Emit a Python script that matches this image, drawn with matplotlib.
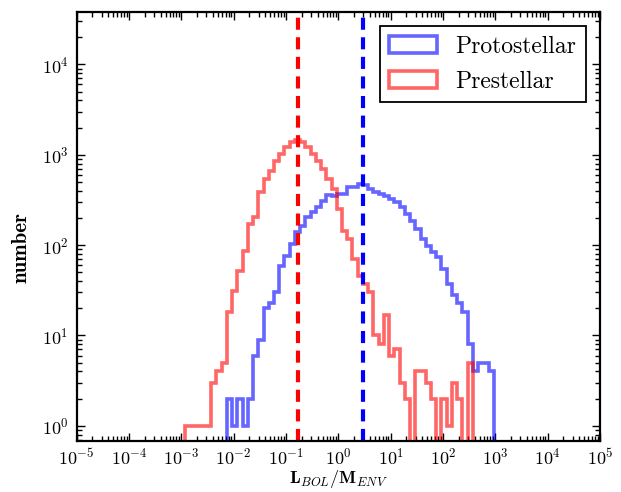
import numpy as np
import matplotlib
matplotlib.use("Agg")
import matplotlib.pyplot as plt
from matplotlib.ticker import LogLocator, NullFormatter

plt.rcParams['font.family'] = 'serif'
plt.rcParams['font.serif'] = ['cmr10']
plt.rcParams['mathtext.fontset'] = 'cm'
plt.rcParams['axes.formatter.use_mathtext'] = True

# bins: 0.1 dex, first edge at 10^-2.93
log_edges = -2.93 + 0.1 * np.arange(60)
edges = 10 ** log_edges
centers = 10 ** (log_edges[:-1] + 0.05)

# Prestellar counts, bins 0..54
pre_counts = [1, 1, 1, 1, 1, 3, 4, 5, 18, 31,
              52, 87, 171, 203, 385, 540, 667, 860, 1020, 1210,
              1375, 1450, 1375, 1210, 1020, 860, 700, 540, 418, 250,
              145, 117, 70, 46, 37, 30, 10, 8, 17, 6,
              7, 3, 2, 0, 4, 4, 3, 2, 0, 2,
              1, 3, 2, 0, 5]
pre_first = 0

# Protostellar counts, bins 8..58
proto_counts = [2, 1, 2, 1, 2, 6, 9, 20, 23, 30,
                59, 76, 103, 139, 164, 203, 230, 263, 310, 355,
                352, 368, 368, 437, 437, 475, 457, 418, 385, 368,
                352, 324, 299, 263, 220, 186, 150, 117, 98, 83,
                73, 54, 37, 28, 23, 18, 8, 4, 5, 5,
                4]
proto_first = 8

pre_median = 0.17
proto_median = 3.0

fig = plt.figure(figsize=(6.21, 4.92), dpi=100)
ax = fig.add_axes([0.1235, 0.1037, 0.8427, 0.8719])
ax.set_xscale('log')
ax.set_yscale('log')

n = len(proto_counts)
ax.hist(centers[proto_first:proto_first + n], bins=edges[proto_first:proto_first + n + 1],
        weights=proto_counts, histtype='step', color='b', alpha=0.6, lw=2.6,
        label='Protostellar')
n = len(pre_counts)
ax.hist(centers[pre_first:pre_first + n], bins=edges[pre_first:pre_first + n + 1],
        weights=pre_counts, histtype='step', color='r', alpha=0.6, lw=2.6,
        label='Prestellar')

ax.axvline(pre_median, color='r', lw=3.0, dashes=[2.9, 1.8])
ax.axvline(proto_median, color='b', lw=3.0, dashes=[2.9, 1.8])

ax.set_xlim(1e-5, 1e5)
ax.set_ylim(0.68, 3.8e4)

ax.xaxis.set_major_locator(LogLocator(base=10, numticks=30))
ax.xaxis.set_minor_locator(LogLocator(base=10, subs=np.arange(2, 10), numticks=200))
ax.xaxis.set_minor_formatter(NullFormatter())
ax.yaxis.set_major_locator(LogLocator(base=10, numticks=30))
ax.yaxis.set_minor_locator(LogLocator(base=10, subs=np.arange(2, 10), numticks=200))
ax.yaxis.set_minor_formatter(NullFormatter())

ax.tick_params(which='both', direction='in', top=True, right=True, width=1)
ax.tick_params(which='major', length=6, labelsize=13, pad=6)
ax.tick_params(axis='x', which='major', pad=4)
ax.tick_params(which='minor', length=3.5)
for s in ax.spines.values():
    s.set_linewidth(1.6)

ax.set_xlabel(r'$\mathbf{L}_{BOL}\mathbf{/M}_{ENV}$', fontsize=13)
ax.xaxis.set_label_coords(0.5, -0.062)
ax.set_ylabel('number', fontfamily='cmb10', fontsize=15)
ax.yaxis.set_label_coords(-0.088, 0.45)

leg = ax.legend(loc='upper right', fontsize=17, fancybox=False, framealpha=1,
                edgecolor='k', handlelength=2, borderaxespad=0.6, labelspacing=0.55)
leg.get_frame().set_linewidth(1.3)

fig.savefig('out.png', dpi=100)
